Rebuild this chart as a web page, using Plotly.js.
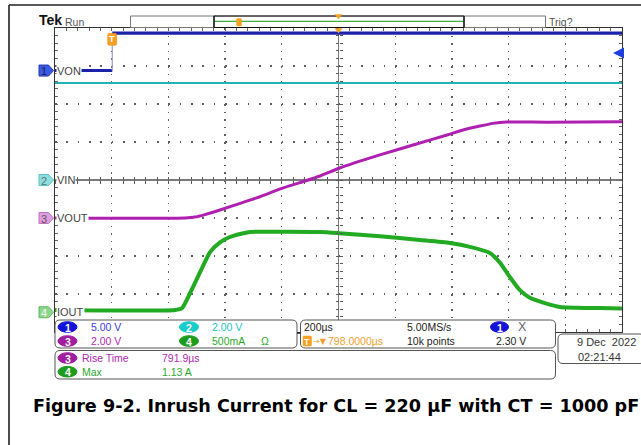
<!DOCTYPE html>
<html><head><meta charset="utf-8">
<script src="https://cdn.plot.ly/plotly-3.0.1.min.js"></script>
<style>html,body{margin:0;padding:0;background:#fff}#chart{width:641px;height:445px}</style>
</head><body><div id="chart"></div>
<script>
// ---------------- data (time in µs relative to screen centre) ----------------
const chNames   = ['VON', 'VIN', 'VOUT', 'IOUT'];
const chScale   = [5, 2, 2, 0.5];          // units per division
const chOffset  = [2.88, 0, -1, -3.48];    // ground position, divisions from centre
const chColors  = ['#1b22a8', '#22b4b4', '#b020b0', '#22aa22'];

const vonTime  = [-1000, -798, -798, 1000];
const vonVolts = [0, 0, 4.93, 4.93];

const vinTime  = [-1000, 1000];
const vinVolts = [5.1, 5.1];

const voutTime  = [-1000, -541, -506, -471, -418, -347, -277, -200, -136, -65, 2, 146, 263, 383, 439, 499, 545, 594, 735, 1000];
const voutVolts = [0, 0, 0.05, 0.18, 0.42, 0.77, 1.12, 1.56, 1.86, 2.21, 2.62, 3.32, 3.84, 4.37, 4.63, 4.84, 4.98, 5.05, 5.04, 5.07];

const ioutTime = [-1000, -577, -552, -524, -489, -453, -418, -383, -347, -312, -206, -65, 2, 146, 287, 393, 464, 534, 570, 605, 640, 675, 728, 781, 922, 1000];
const ioutAmps = [0.03, 0.03, 0.055, 0.25, 0.52, 0.79, 0.92, 0.99, 1.03, 1.055, 1.06, 1.055, 1.04, 1.0, 0.95, 0.91, 0.86, 0.78, 0.65, 0.46, 0.29, 0.19, 0.12, 0.07, 0.055, 0.05];

const triggerTime  = -798;
const triggerLevel = 2.30;

const scaleLabels = ['5.00 V', '2.00 V', '2.00 V', '500mA'];
const timeInfo = ['200µs', '5.00MS/s', '798.0000µs', '10k points', '2.30 V'];
const measNames  = ['Rise Time', 'Max'];
const measValues = ['791.9µs', '1.13 A'];
const dateText = ['9 Dec  2022', '02:21:44'];
const caption = 'Figure 9-2. Inrush Current for CL = 220 µF with CT = 1000 pF';

// ---------------- geometry helpers ----------------
const W = 641, H = 445, L = 55, R = 622, T = 28, B = 332;
const px = x => (x - L) / (R - L);
const py = y => (B - y) / (B - T);
const chY = k => B - (4 + chOffset[k]) / 8 * (B - T);   // pixel y of channel ground
const FN = "'Liberation Sans',Arial,sans-serif";
const FS = 10.5;

const shapes = [], annotations = [];
function line(x0, y0, x1, y1, color, w) {
  shapes.push({type: 'line', xref: 'paper', yref: 'paper', x0: px(x0), y0: py(y0), x1: px(x1), y1: py(y1), line: {color: color, width: w}});
}
function poly(pts, fill, lc, lw) {
  const d = pts.map((p, i) => (i ? 'L' : 'M') + px(p[0]) + ',' + py(p[1])).join(' ') + ' Z';
  shapes.push({type: 'path', xref: 'paper', yref: 'paper', path: d, fillcolor: fill, line: {color: lc, width: lw}});
}
function rrect(x0, y0, x1, y1, r, fill, lc, lw) {
  const P = (x, y) => px(x) + ',' + py(y);
  const d = 'M' + P(x0 + r, y0) + ' L' + P(x1 - r, y0) + ' Q' + P(x1, y0) + ' ' + P(x1, y0 + r) +
            ' L' + P(x1, y1 - r) + ' Q' + P(x1, y1) + ' ' + P(x1 - r, y1) +
            ' L' + P(x0 + r, y1) + ' Q' + P(x0, y1) + ' ' + P(x0, y1 - r) +
            ' L' + P(x0, y0 + r) + ' Q' + P(x0, y0) + ' ' + P(x0 + r, y0) + ' Z';
  shapes.push({type: 'path', xref: 'paper', yref: 'paper', path: d, fillcolor: fill, line: {color: lc, width: lw}});
}
function oval(cx, cy, rx, ry, fill) {
  shapes.push({type: 'circle', xref: 'paper', yref: 'paper', x0: px(cx - rx), x1: px(cx + rx), y0: py(cy + ry), y1: py(cy - ry), fillcolor: fill, line: {color: fill, width: 1}});
}
function txt(text, x, y, color, size, anchor, extra) {
  annotations.push(Object.assign({text: text, xref: 'paper', yref: 'paper', x: px(x), y: py(y), xanchor: anchor || 'left', yanchor: 'middle',
    showarrow: false, font: {family: FN, size: size || FS, color: color}, borderpad: 0}, extra || {}));
}

// ---------------- frame & header ----------------
line(9, 5, 641, 5, '#222', 1.6);
line(9, 5, 9, 445, '#222', 1.6);
txt('<b>Tek</b>', 38, 20.5, '#111', 14);
txt('Run', 64, 21.5, '#555', FS);
rrect(130.5, 16, 545.5, 27.5, 0, 'rgba(0,0,0,0)', '#777', 1);
line(214, 21.3, 464, 21.3, '#3fb03f', 1.2);
line(214, 16, 214, 27.5, '#111', 1.6);
line(464, 16, 464, 27.5, '#111', 1.6);
line(214, 16, 464, 16, '#111', 1);
line(214, 27.5, 464, 27.5, '#111', 1);
rrect(236.5, 18.5, 241.5, 26, 1, '#f5a020', '#f5a020', 0.5);
poly([[335, 14.5], [342, 14.5], [338.5, 19]], '#f5a020', '#f5a020', 0.5);
txt('Trig?', 548, 21.5, '#555', FS);
poly([[335, 28.5], [342, 28.5], [338.5, 33]], '#f5a020', '#f5a020', 0.5);

// trigger marker on the trace
rrect(107.7, 33.3, 116.7, 45.3, 1.5, '#f5a020', '#e09010', 0.5);
txt('<b>T</b>', 112.2, 39.5, '#fff', 9, 'center');

// channel tags and labels
const tagFill = ['#3b5ce0', '#8fdede', '#dc9edc', '#8fd48f'];
const tagLine = ['#2438b0', '#55c5c5', '#c070c0', '#60b860'];
const tagText = ['#1b1b60', '#5e7878', '#6e4e6e', '#f4fff4'];
for (let k = 0; k < 4; k++) {
  const c = chY(k);
  poly([[39, c - 5.5], [48.5, c - 5.5], [53.5, c], [48.5, c + 5.5], [39, c + 5.5]], tagFill[k], tagLine[k], 1);
  txt(String(k + 1), 44, c + 0.5, tagText[k], 11, 'center');
  txt(chNames[k], 56, c, '#444', 11, 'left', {bgcolor: '#fff'});
}

// trigger level arrow (ch1)
annotations.push({xref: 'paper', yref: 'y2', x: px(613), y: triggerLevel, ax: 9, ay: 0, text: '', showarrow: true,
  arrowhead: 2, arrowsize: 1, arrowwidth: 2.2, arrowcolor: '#1f3fe0'});

// ---------------- info panels (opaque, covering the graticule bottom) ----------------
rrect(55, 320, 297, 348, 5, '#fff', '#555', 1);
rrect(300.5, 320, 555.5, 348, 5, '#fff', '#555', 1);
rrect(55, 350.5, 555.5, 379, 5, '#fff', '#555', 1);
rrect(558, 334, 645, 363.5, 5, '#fff', '#555', 1);
line(297, 333, 300.5, 333, '#222', 1.5);

const ovalFill = ['#1414d8', '#18cccc', '#a01ca0', '#1c9c1c'];
const textCol  = ['#3a3ae6', '#22c4c4', '#b028b0', '#2aa82a'];
const ovalPos = [[67.5, 327], [189, 327], [67.5, 341], [189, 341]];
for (let k = 0; k < 4; k++) {
  const [cx, cy] = ovalPos[k];
  oval(cx, cy, 9.5, 5.3, ovalFill[k]);
  txt('<b>' + (k + 1) + '</b>', cx, cy + 0.5, '#fff', 10.5, 'center');
  txt(scaleLabels[k], cx + 22, cy, textCol[k], FS);
}
txt('Ω', 260, 341, textCol[3], FS);

// timebase panel
txt(timeInfo[0], 303, 327, '#222', FS);
txt(timeInfo[1], 406, 327, '#222', FS);
oval(499.5, 327, 9, 5.3, ovalFill[0]);
txt('<b>1</b>', 499.5, 327.5, '#fff', 10.5, 'center');
txt('X', 517, 327, '#666', 12.5);
rrect(303, 336, 311.5, 346, 1, '#f5a020', '#f5a020', 0.5);
txt('<b>T</b>', 307.2, 341.5, '#fff', 9, 'center');
txt('→▼', 312, 341, '#f0a030', 8, 'left', {font: {family: "'DejaVu Sans',sans-serif", size: 8, color: '#f0a030'}});
txt(timeInfo[2], 327, 341, '#f0a030', FS);
txt(timeInfo[3], 406, 341, '#222', FS);
txt(timeInfo[4], 495, 341, '#222', FS);

// measurement panel
const measCh = [2, 3];
for (let m = 0; m < 2; m++) {
  const cy = 358 + m * 13.7, k = measCh[m];
  oval(67.5, cy, 9.5, 5.3, ovalFill[k]);
  txt('<b>' + (k + 1) + '</b>', 67.5, cy + 0.5, '#fff', 10.5, 'center');
  txt(measNames[m], 81, cy, textCol[k], FS);
  txt(measValues[m], 161, cy, textCol[k], FS);
}

// date panel
txt(dateText[0], 637, 342, '#333', FS + 0.5, 'right');
txt(dateText[1], 577, 356.5, '#333', FS + 0.5);

// caption
txt('<b>' + caption + '</b>', 32, 406, '#000', 17.6, 'left', {font: {family: "'DejaVu Sans',sans-serif", size: 17.6, color: '#000'}});

// ---------------- traces ----------------
const traces = [{x: [], y: [], xaxis: 'x', yaxis: 'y', type: 'scatter', showlegend: false}];
function chTrace(x, y, k, w, extra) {
  return Object.assign({x: x, y: y, type: 'scatter', mode: 'lines', xaxis: 'x', yaxis: 'y' + (k + 2),
    line: {color: chColors[k], width: w}, hoverinfo: 'skip', showlegend: false}, extra || {});
}
['x2', 'x3'].forEach(a => traces.push({x: [], y: [], xaxis: a, yaxis: 'y', type: 'scatter', showlegend: false}));
['y6', 'y7'].forEach(a => traces.push({x: [], y: [], xaxis: 'x', yaxis: a, type: 'scatter', showlegend: false}));

traces.push(chTrace(vinTime, vinVolts, 1, 2));
traces.push(chTrace(voutTime, voutVolts, 2, 3, {line: {color: chColors[2], width: 3, shape: 'spline', smoothing: 0.6}}));
traces.push(chTrace(ioutTime, ioutAmps, 3, 4, {line: {color: chColors[3], width: 4, shape: 'spline', smoothing: 0.6}}));
traces.push(chTrace(vonTime.slice(0, 2), vonVolts.slice(0, 2), 0, 3));
traces.push(chTrace(vonTime.slice(1, 3), vonVolts.slice(1, 3), 0, 1.2, {line: {color: '#9a9ac8', width: 1.2}}));
traces.push(chTrace(vonTime.slice(2), vonVolts.slice(2), 0, 3.2));

// ---------------- axes ----------------
const tickC = '#666';
const gridC = '#606060';
const layout = {
  width: W, height: H, margin: {l: L, r: W - R, t: T, b: H - B, pad: 0},
  paper_bgcolor: '#fff', plot_bgcolor: 'rgba(0,0,0,0)', showlegend: false,
  font: {family: FN, size: FS, color: '#333'},
  xaxis: {range: [-1000, 1000], fixedrange: true, showticklabels: false,
    showgrid: true, gridcolor: gridC, gridwidth: 1.3, griddash: '1.5px,6.1px',
    zeroline: true, zerolinecolor: '#7a7a7a', zerolinewidth: 1.2,
    showline: true, linecolor: '#333', linewidth: 1, mirror: 'ticks',
    ticks: 'inside', ticklen: 3, tickcolor: tickC, tick0: 0, dtick: 200,
    minor: {tick0: 0, dtick: 40, ticks: 'inside', ticklen: 3, tickcolor: tickC, showgrid: false}},
  yaxis: {range: [-4, 4], fixedrange: true, showticklabels: false,
    showgrid: true, gridcolor: gridC, gridwidth: 1.3, griddash: '1.5px,9.84px',
    zeroline: true, zerolinecolor: '#7a7a7a', zerolinewidth: 1.2,
    showline: true, linecolor: '#333', linewidth: 1, mirror: 'ticks',
    ticks: 'inside', ticklen: 3, tickcolor: tickC, tick0: 0, dtick: 1,
    minor: {tick0: 0, dtick: 0.2, ticks: 'inside', ticklen: 3, tickcolor: tickC, showgrid: false}},
  shapes: shapes, annotations: annotations
};
const centreX = {overlaying: 'x', anchor: 'free', position: 0.5, range: [-1000, 1000], showgrid: false, zeroline: false,
  showline: false, showticklabels: false, tick0: 0, dtick: 40, ticklen: 3, tickcolor: '#5a5a5a', fixedrange: true};
layout.xaxis2 = Object.assign({}, centreX, {ticks: 'outside'});
layout.xaxis3 = Object.assign({}, centreX, {ticks: 'inside'});
const centreY = {overlaying: 'y', anchor: 'free', position: 0.5, range: [-4, 4], showgrid: false, zeroline: false,
  showline: false, showticklabels: false, tick0: 0, dtick: 0.2, ticklen: 3, tickcolor: '#5a5a5a', fixedrange: true};
layout.yaxis6 = Object.assign({}, centreY, {ticks: 'outside'});
layout.yaxis7 = Object.assign({}, centreY, {ticks: 'inside'});
for (let k = 0; k < 4; k++) {
  layout['yaxis' + (k + 2)] = {overlaying: 'y', visible: false, fixedrange: true,
    range: [(-4 - chOffset[k]) * chScale[k], (4 - chOffset[k]) * chScale[k]]};
}

Plotly.newPlot('chart', traces, layout, {staticPlot: true, displayModeBar: false});
</script></body></html>
